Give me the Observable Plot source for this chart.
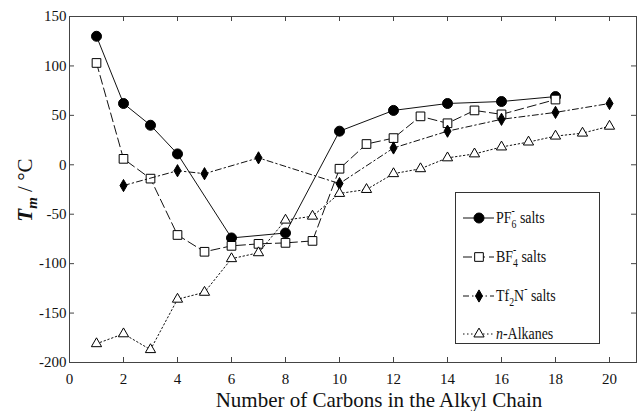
<!DOCTYPE html>
<html>
<head>
<meta charset="utf-8">
<script src="https://cdn.jsdelivr.net/npm/d3@7"></script>
<script src="https://cdn.jsdelivr.net/npm/@observablehq/plot@0.6"></script>
<style>
  html, body { margin: 0; padding: 0; background: #fff; }
  #chart svg { display: block; }
</style>
</head>
<body>
<div id="chart"></div>
<script>
// ---- data ----
const carbonsPF6 = [1, 2, 3, 4, 6, 8, 10, 12, 14, 16, 18];
const tmPF6      = [130, 62, 40, 11, -74, -69, 34, 55, 62, 64, 69];

const carbonsBF4 = [1, 2, 3, 4, 5, 6, 7, 8, 9, 10, 11, 12, 13, 14, 15, 16, 18];
const tmBF4      = [103, 6, -14, -71, -88, -82, -80, -79, -77, -4, 21, 27, 49, 42, 55, 51, 66];

const carbonsTf2N = [2, 4, 5, 7, 10, 12, 14, 16, 18, 20];
const tmTf2N      = [-21, -6, -9, 7, -19, 17, 34, 46, 53, 62];

const carbonsAlk = [1, 2, 3, 4, 5, 6, 7, 8, 9, 10, 11, 12, 13, 14, 15, 16, 17, 18, 19, 20];
const tmAlk      = [-181, -171, -187, -136, -129, -95, -89, -56, -52, -29, -25, -9, -4, 7, 11, 18, 23, 29, 32, 39];

const xTicks = [0, 2, 4, 6, 8, 10, 12, 14, 16, 18, 20];
const yTicks = [-200, -150, -100, -50, 0, 50, 100, 150];
const xDomain = [0, 21];
const yDomain = [-200, 150];
const xLabel = "Number of Carbons in the Alkyl Chain";

// ---- styles ----
const series = [
  {key: "PF6",  xs: carbonsPF6,  ys: tmPF6,  dash: null,          symbol: "circle",   d3sym: d3.symbolCircle,   fill: "#000", r: 5},
  {key: "BF4",  xs: carbonsBF4,  ys: tmBF4,  dash: "9,4",         symbol: "square",   d3sym: d3.symbolSquare,   fill: "#fff", r: 4.9},
  {key: "Tf2N", xs: carbonsTf2N, ys: tmTf2N, dash: "6,3,1.5,3",   symbol: "diamond",  d3sym: d3.symbolDiamond,  fill: "#000", r: 3.7},
  {key: "Alk",  xs: carbonsAlk,  ys: tmAlk,  dash: "1.5,2.5",     symbol: "triangle", d3sym: d3.symbolTriangle, fill: "#fff", r: 3.8}
];
const lineColor = "#111";
const axisColor = "#444";

const marks = [];
marks.push(Plot.frame({stroke: axisColor, strokeWidth: 1}));
// inward ticks on all four sides
marks.push(Plot.ruleX(xTicks, {x: d => d, y1: yDomain[0], y2: yDomain[0], insetTop: -5, stroke: axisColor}));
marks.push(Plot.ruleX(xTicks, {x: d => d, y1: yDomain[1], y2: yDomain[1], insetBottom: -5, stroke: axisColor}));
marks.push(Plot.ruleY(yTicks, {y: d => d, x1: xDomain[0], x2: xDomain[0], insetRight: -5, stroke: axisColor}));
marks.push(Plot.ruleY(yTicks, {y: d => d, x1: xDomain[1], x2: xDomain[1], insetLeft: -5, stroke: axisColor}));
marks.push(Plot.axisX(xTicks, {tickSize: 0, tickPadding: 11, tickFormat: d => String(d), label: null}));
marks.push(Plot.axisY(yTicks, {tickSize: 0, tickPadding: 3, tickFormat: d => String(d), label: null}));

for (const s of series) {
  const data = s.xs.map((c, i) => ({carbons: c, tm: s.ys[i]}));
  marks.push(Plot.line(data, {
    x: "carbons", y: "tm", stroke: lineColor, strokeWidth: 1,
    strokeDasharray: s.dash || undefined
  }));
  marks.push(Plot.dot(data, {
    x: "carbons", y: "tm", symbol: () => s.symbol, r: s.r,
    fill: s.fill, stroke: "#000", strokeWidth: 1
  }));
}

const svgEl = Plot.plot({
  width: 637,
  height: 411,
  marginLeft: 69,
  marginRight: 1,
  marginTop: 16,
  marginBottom: 49,
  x: {domain: xDomain},
  y: {domain: yDomain},
  symbol: {type: "identity"},
  style: {fontFamily: "'Liberation Serif', 'Times New Roman', serif", fontSize: "15px", color: "#111", background: "#fff"},
  marks
});

const svg = d3.select(svgEl);
const serif = "'Liberation Serif', 'Times New Roman', serif";

// x axis label
svg.append("text")
  .attr("x", 379).attr("y", 407)
  .attr("text-anchor", "middle")
  .attr("font-family", serif).attr("font-size", 21).attr("fill", "#111")
  .text(xLabel);

// y axis label
const yl = svg.append("text")
  .attr("transform", "translate(32,190) rotate(-90)")
  .attr("text-anchor", "middle")
  .attr("font-family", serif).attr("font-size", 21).attr("fill", "#111");
yl.append("tspan").attr("font-style", "italic").attr("font-weight", "bold").text("T");
yl.append("tspan").attr("font-style", "italic").attr("font-weight", "bold").attr("font-size", 15).attr("dy", 5).text("m");
yl.append("tspan").attr("dy", -5).text(" / °C");

// legend
const lg = svg.append("g").attr("text-anchor", "start");
lg.append("rect").attr("x", 455.5).attr("y", 192.5).attr("width", 144).attr("height", 151)
  .attr("fill", "#fff").attr("stroke", "#333").attr("stroke-width", 1);
const rowsY = [218, 257, 296, 334];
series.forEach((s, i) => {
  const y = rowsY[i];
  lg.append("line").attr("x1", 463).attr("x2", 494).attr("y1", y).attr("y2", y)
    .attr("stroke", lineColor).attr("stroke-width", 1)
    .attr("stroke-dasharray", s.dash || null);
  lg.append("path").attr("transform", `translate(479,${y})`)
    .attr("d", d3.symbol(s.d3sym, Math.PI * s.r * s.r)())
    .attr("fill", s.fill).attr("stroke", "#000").attr("stroke-width", 1);
  const g = lg.append("g").attr("transform", `translate(496,${y + 5}) scale(0.82,1)`);
  const t = g.append("text").attr("text-anchor", "start")
    .attr("font-family", serif).attr("font-size", 17).attr("fill", "#111");
  if (s.key === "PF6" || s.key === "BF4") {
    t.append("tspan").text(s.key === "PF6" ? "PF" : "BF");
    t.append("tspan").attr("font-size", 12).attr("dy", -8).text("-");
    t.append("tspan").attr("font-size", 12).attr("dx", -4).attr("dy", 13).text(s.key === "PF6" ? "6" : "4");
    t.append("tspan").attr("dy", -5).text(" salts");
  } else if (s.key === "Tf2N") {
    t.append("tspan").text("Tf");
    t.append("tspan").attr("font-size", 12).attr("dy", 5).text("2");
    t.append("tspan").attr("dy", -5).text("N");
    t.append("tspan").attr("font-size", 12).attr("dy", -8).text("-");
    t.append("tspan").attr("dy", 8).text(" salts");
  } else {
    t.append("tspan").attr("font-style", "italic").text("n");
    t.append("tspan").text("-Alkanes");
  }
});

document.getElementById("chart").appendChild(svgEl);
</script>
</body>
</html>
